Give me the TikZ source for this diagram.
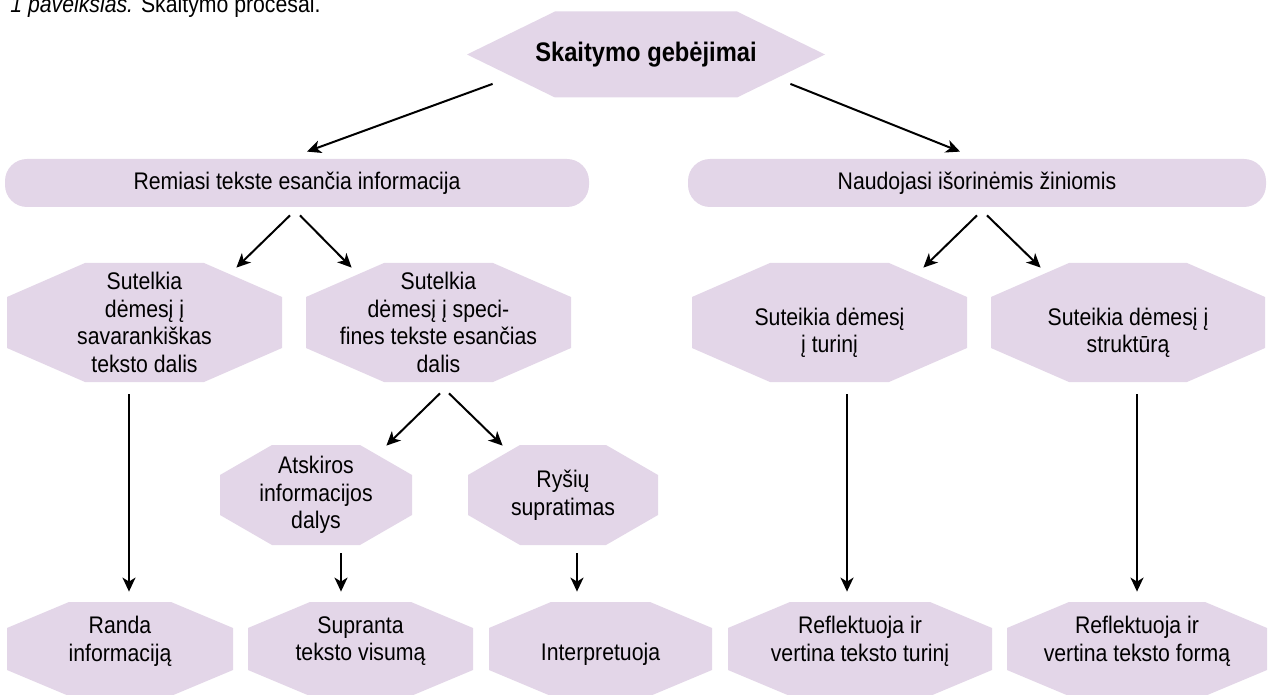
\documentclass[tikz,border=0pt]{standalone}
\usepackage{fontspec}
\setmainfont{Liberation Sans}[FakeStretch=0.885]
\usetikzlibrary{arrows.meta}
\definecolor{boxfill}{HTML}{E3D6E8}
\tikzset{
    pill-box/.style = {fill=boxfill, rounded corners=11pt, minimum width=#1, minimum height=24pt, inner sep=0pt},
    octa-box/.style n args = {4}{fill=white, minimum width=#1, minimum height=#2, inner sep=0pt, align=center,
        path picture={\fill[boxfill]
            ([xshift=#3]path picture bounding box.north west) -- ([xshift=-#3]path picture bounding box.north east)
            -- ([yshift=-#4]path picture bounding box.north east) -- ([yshift=#4]path picture bounding box.south east)
            -- ([xshift=-#3]path picture bounding box.south east) -- ([xshift=#3]path picture bounding box.south west)
            -- ([yshift=#4]path picture bounding box.south west) -- ([yshift=-#4]path picture bounding box.north west) -- cycle;}},
    big-oct/.style = {octa-box={#1}{59.5pt}{39pt}{17pt}},
    mid-oct/.style = {octa-box={#1}{50pt}{26pt}{15pt}},
    low-oct/.style = {octa-box={#1}{47pt}{31pt}{13pt}},
    link/.style = {line width=1pt, -{Stealth[length=7pt, width=6.5pt, inset=2pt]}},
}

\begin{document}
\begin{tikzpicture}[x=0.5pt, y=-0.5pt, font=\fontsize{12}{13.8}\selectfont]
\useasboundingbox (0,0) rectangle (1269,695);
\node[anchor=base west, inner sep=0pt] (caption) at (10,13) {\textit{1 paveikslas.} Skaitymo procesai.};
\node[octa-box={179pt}{43pt}{44pt}{21.5pt}, font=\fontsize{13.4}{15}\selectfont\bfseries] (skait) at (646,54.5) {Skaitymo gebėjimai};
\node[pill-box=292pt] (remt) at (297,183) {Remiasi tekste esančia informacija};
\node[pill-box=289pt] (naud) at (977,183) {Naudojasi išorinėmis žiniomis};
% second level
\node[big-oct=137.5pt] (sut1) at (144.5,322.5) {Sutelkia\\dėmesį į\\savarankiškas\\teksto dalis};
\node[big-oct=132.5pt] (sut2) at (438.5,322.5) {Sutelkia\\dėmesį į speci-\\fines tekste esančias\\dalis};
\node[big-oct=137.5pt] (sute1) at (829.5,322.5) {\rule{0pt}{19pt}Suteikia dėmesį\\į turinį};
\node[big-oct=137pt] (sute2) at (1128,322.5) {\rule{0pt}{19pt}Suteikia dėmesį į\\struktūrą};
\node[mid-oct=96pt] (atsk) at (316,495) {Atskiros\\informacijos\\dalys};
\node[mid-oct=95pt] (rys) at (563,495) {Ryšių\\supratimas};
% bottom row
\node[low-oct=113pt] (randa) at (120,649) {Randa\\informaciją\rule[-10.3pt]{0pt}{0pt}};
\node[low-oct=112.5pt] (supr) at (360.5,649) {Supranta\\teksto visumą\rule[-10.3pt]{0pt}{0pt}};
\node[low-oct=111.5pt] (interp) at (600.5,649) {\rule{0pt}{13.5pt}Interpretuoja};
\node[low-oct=132pt] (refl1) at (860,649) {Reflektuoja ir\\vertina teksto turinį\rule[-10.3pt]{0pt}{0pt}};
\node[low-oct=130pt] (refl2) at (1137,649) {Reflektuoja ir\\vertina teksto formą\rule[-10.3pt]{0pt}{0pt}};

\draw[link] ([shift={(26,-14)}]skait.south west) -- ([shift={(10,-7)}]remt.north);
\draw[link] ([shift={(-35,-14)}]skait.south east) -- ([shift={(-17,-7)}]naud.north);
\draw[link] ([shift={(-7,8)}]remt.south) -- ([shift={(-46,5)}]sut1.north east);
\draw[link] ([shift={(3,8)}]remt.south) -- ([shift={(46,5)}]sut2.north west);
\draw[link] ([shift={(0,8)}]naud.south) -- ([shift={(-44,5)}]sute1.north east);
\draw[link] ([shift={(10,8)}]naud.south) -- ([shift={(50,5)}]sute2.north west);
\draw[link] ([shift={(-15.5,12)}]sut1.south) -- ([shift={(9,-10)}]randa.north);
\draw[link] ([shift={(1.5,11)}]sut2.south) -- ([shift={(-26,1)}]atsk.north east);
\draw[link] ([shift={(10.5,11)}]sut2.south) -- ([shift={(35,1)}]rys.north west);
\draw[link] ([shift={(25,8)}]atsk.south) -- ([shift={(-19.5,-10)}]supr.north);
\draw[link] ([shift={(14,8)}]rys.south) -- ([shift={(-23.5,-10)}]interp.north);
\draw[link] ([shift={(17.5,12)}]sute1.south) -- ([shift={(-13,-10)}]refl1.north);
\draw[link] ([shift={(9,12)}]sute2.south) -- ([shift={(0,-10)}]refl2.north);
\end{tikzpicture}
\end{document}
